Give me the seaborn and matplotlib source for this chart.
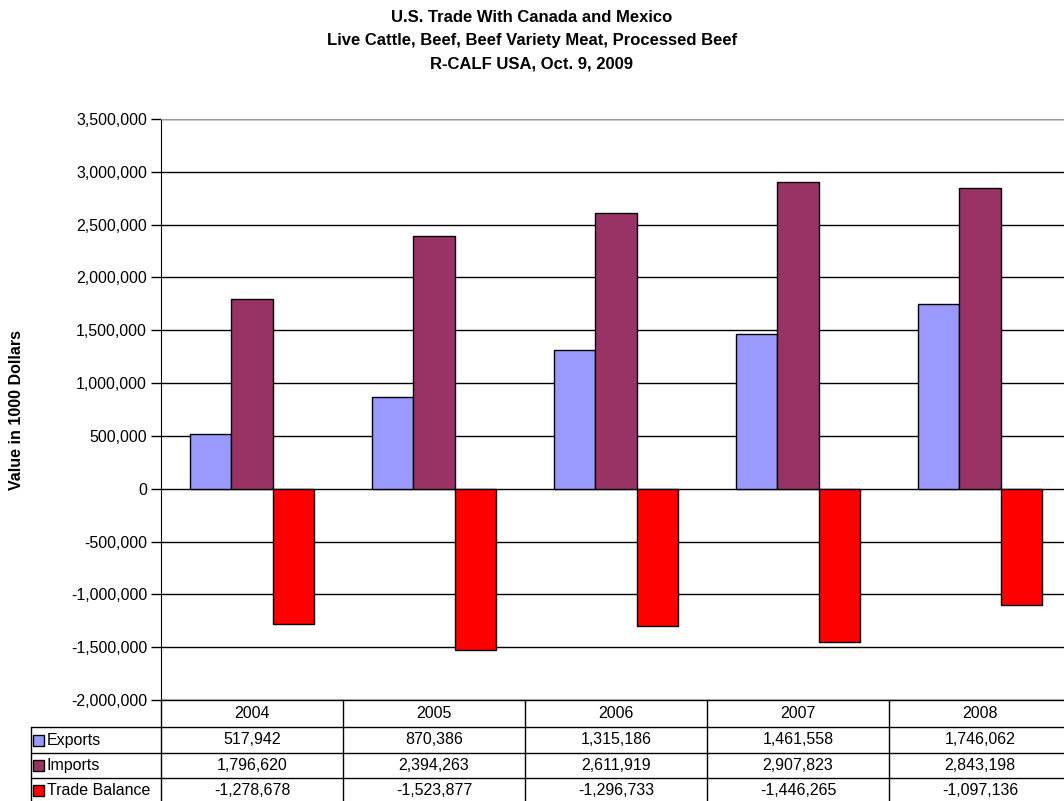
import numpy as np
import pandas as pd
import seaborn as sns
import matplotlib.pyplot as plt
from matplotlib.patches import Rectangle
from matplotlib.transforms import blended_transform_factory
from matplotlib.ticker import FuncFormatter

# values in 1000 dollars
years = ['2004', '2005', '2006', '2007', '2008']
exports = [517942, 870386, 1315186, 1461558, 1746062]
imports = [1796620, 2394263, 2611919, 2907823, 2843198]
balance = [-1278678, -1523877, -1296733, -1446265, -1097136]
series = ['Exports', 'Imports', 'Trade Balance']
colors = ['#9999FF', '#993366', '#FF0000']

df = pd.DataFrame({
    'Year': years * 3,
    'Series': np.repeat(series, len(years)),
    'Value': exports + imports + balance,
})

sns.set_style('white')
plt.rcParams['font.family'] = ['Liberation Sans', 'DejaVu Sans']
plt.rcParams['text.color'] = 'black'
plt.rcParams['ytick.color'] = 'black'
plt.rcParams['ytick.labelcolor'] = 'black'

W, H = 1064, 801
fig = plt.figure(figsize=(W / 100, H / 100), dpi=100)
# plot area in pixels: left 161, right 1071 (clipped), top 119, bottom 700
ax = fig.add_axes([161 / W, 1 - 700 / H, 910 / W, 581 / H])

sns.barplot(data=df, x='Year', y='Value', hue='Series', palette=colors,
            saturation=1, edgecolor='black', linewidth=1, width=0.676,
            ax=ax, legend=False, zorder=3)

ax.set_xlim(-0.5, 4.5)
ax.set_ylim(-2000000, 3500000)
ax.set_yticks(np.arange(-2000000, 3500001, 500000))
ax.yaxis.set_major_formatter(FuncFormatter(lambda v, p: f'{int(v):,}'))
ax.tick_params(axis='y', left=True, length=7, width=1, color='black',
               labelsize=11.5, pad=3)
ax.tick_params(axis='x', bottom=False, labelbottom=False)
ax.set_xlabel('')
ax.set_ylabel('')
ax.grid(axis='y', color='black', linewidth=1, zorder=0)
ax.grid(axis='x', visible=False)
for s in ['right', 'bottom']:
    ax.spines[s].set_visible(False)
ax.spines['left'].set_color('black')
ax.spines['top'].set_color('#999999')

fig.text(0.5, 1 - 18 / H, 'U.S. Trade With Canada and Mexico', ha='center',
         va='center', fontsize=12, fontweight='bold')
fig.text(0.5, 1 - 41 / H, 'Live Cattle, Beef, Beef Variety Meat, Processed Beef',
         ha='center', va='center', fontsize=12, fontweight='bold')
fig.text(0.5, 1 - 64 / H, 'R-CALF USA, Oct. 9, 2009', ha='center',
         va='center', fontsize=12, fontweight='bold')
fig.text(17 / W, 1 - 410 / H, 'Value in 1000 Dollars', rotation=90,
         ha='center', va='center', fontsize=11.5, fontweight='bold')

# data table under the plot
def ay(py):
    return (700 - py) / 581.0

def ax_(px):
    return (px - 161) / 910.0

tr = blended_transform_factory(ax.transData, ax.transAxes)
row_lines = [700, 727, 753, 778, 803]
lw = 1
# horizontal lines
ax.plot([-0.5, 4.5], [ay(700)] * 2, transform=tr, color='black', lw=lw, clip_on=False)
for py in row_lines[1:]:
    ax.plot([ax_(31), 1.0], [ay(py)] * 2, transform=ax.transAxes, color='black',
            lw=lw, clip_on=False)
# vertical lines
for xb in np.arange(-0.5, 5.0, 1.0):
    ax.plot([xb, xb], [ay(700), ay(803)], transform=tr, color='black', lw=lw,
            clip_on=False)
ax.plot([ax_(31)] * 2, [ay(727), ay(803)], transform=ax.transAxes, color='black',
        lw=lw, clip_on=False)

for i, yr in enumerate(years):
    ax.text(i, ay(714), yr, transform=tr, ha='center', va='center', fontsize=11.5)

table_vals = [exports, imports, balance]
for r, (name, vals, c) in enumerate(zip(series, table_vals, colors)):
    yc = (row_lines[r + 1] + row_lines[r + 2]) / 2
    for i, v in enumerate(vals):
        ax.text(i, ay(yc), f'{v:,}', transform=tr, ha='center', va='center',
                fontsize=11.5)
    ax.add_patch(Rectangle((ax_(33), ay(yc + 5.5)), 11 / 910, 11 / 581,
                           transform=ax.transAxes, facecolor=c,
                           edgecolor='black', lw=1, clip_on=False))
    ax.text(ax_(47), ay(yc), name, transform=ax.transAxes, ha='left',
            va='center', fontsize=11.5)

fig.savefig('out.png', dpi=100)
